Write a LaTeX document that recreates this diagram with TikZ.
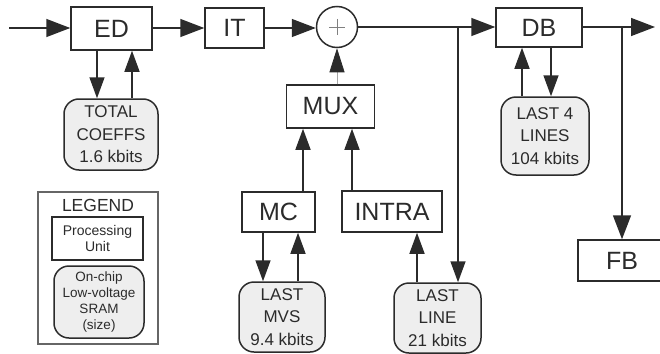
\documentclass[tikz,border=0pt]{standalone}
\usepackage{fontspec}
\setmainfont{Liberation Sans}
\usetikzlibrary{arrows.meta,calc}
\definecolor{ln}{HTML}{2B2B2B}
\definecolor{memfill}{HTML}{EEEEEE}
\tikzset{
  unit/.style={draw=ln, line width=1.5pt, rectangle, inner sep=0pt, font=\fontsize{25}{27}\selectfont, text=ln},
  mem/.style={draw=ln, line width=1.5pt, rectangle, rounded corners=15pt, fill=memfill, inner sep=0pt, align=center, font=\fontsize{17}{22.5}\selectfont, text=ln},
  arr/.style={draw=ln, line width=1.5pt, -{Triangle[length=21pt,width=15pt]}},
  harr/.style={draw=ln, line width=1.5pt, -{Triangle[length=24pt,width=18pt]}},
}
\begin{document}
\begin{tikzpicture}[x=1pt,y=-1pt]
\useasboundingbox (0,0) rectangle (660,353);
% processing units
\node[unit, minimum width=81pt, minimum height=43pt] (ED) at (111.5,28.5) {ED};
\node[unit, minimum width=59pt, minimum height=40pt] (IT) at (234.5,28) {IT};
\node[draw=ln, line width=1.5pt, circle, minimum size=41pt, inner sep=0pt] (plus) at (337,27) {};
\draw[gray, line width=0.8pt] ($(plus.center)+(-8,0)$) -- ($(plus.center)+(8,0)$)
  ($(plus.center)+(0,-8)$) -- ($(plus.center)+(0,8)$);
\node[unit, minimum width=86pt, minimum height=39pt] (DB) at (539,27.5) {DB};
\node[unit, minimum width=88pt, minimum height=41pt] (FB) at (622,260.5) {FB};
\node[unit, minimum width=88pt, minimum height=43pt] (MUX) at (330.5,106.5) {MUX};
\node[unit, minimum width=73pt, minimum height=40pt] (MC) at (278.5,212) {MC};
\node[unit, minimum width=100pt, minimum height=41pt] (INTRA) at (392,211.5) {INTRA};
% memories
\node[mem, minimum width=94pt, minimum height=71pt] (TC) at (111,134.5) {TOTAL\\COEFFS\\1.6 kbits};
\node[mem, minimum width=88pt, minimum height=78pt] (L4) at (545,136) {LAST 4\\LINES\\104 kbits};
\node[mem, minimum width=86pt, minimum height=70pt] (MVS) at (282,317) {LAST\\MVS\\9.4 kbits};
\node[mem, minimum width=87pt, minimum height=70pt] (LL) at (437.5,318) {LAST\\LINE\\21 kbits};
% legend
\node[draw=gray!80!black, line width=1.2pt, minimum width=120pt, minimum height=152pt, inner sep=0pt] (LEG) at (98,268) {};
\node[font=\fontsize{17.5}{19}\selectfont, text=ln, inner sep=0pt] (LEGT) at (98,205) {LEGEND};
\node[unit, minimum width=91pt, minimum height=43pt, align=center, font=\fontsize{14}{16}\selectfont] (PU) at (97.5,238.5) {Processing\\Unit};
\node[mem, minimum width=90pt, minimum height=72pt, font=\fontsize{13.5}{16}\selectfont] (SR) at (99,302) {On-chip\\Low-voltage\\SRAM\\(size)};
% coordinates
\coordinate (in) at (9,28);
\coordinate (out) at (655,27);
\coordinate (b1) at (458,27);
\coordinate (b2) at (622,27);
% main path
\draw[harr] (in) -- (ED.west |- in);
\draw[harr] (ED.east |- IT.west) -- (IT.west);
\draw[harr] (IT.east) -- (plus.west |- IT.east);
\draw[harr] (plus.east) -- (DB.west |- plus.east);
\draw[harr] (DB.east |- out) -- (out);
\draw[arr] (b1) -- (b1 |- LL.north);
\draw[harr] (b2) -- (FB.north);
% ED memory
\draw[arr] (ED.south -| 97,0) -- (TC.north -| 97,0);
\draw[arr] (TC.north -| 132,0) -- (ED.south -| 132,0);
% DB memory
\draw[arr] (L4.north -| 522,0) -- (DB.south -| 522,0);
\draw[arr] (DB.south -| 551,0) -- (L4.north -| 551,0);
% MUX to adder
\draw[gray!70, line width=0.8pt, -{Triangle[length=24pt,width=15pt,color=ln]}] (MUX.north -| plus.south) -- (plus.south);
% MC, INTRA to MUX
\draw[arr] (MC.north -| 303,0) -- (MUX.south -| 303,0);
\draw[arr] (INTRA.north -| 352,0) -- (MUX.south -| 352,0);
% MC memory
\draw[arr] (MC.south -| 263,0) -- (MVS.north -| 263,0);
\draw[arr] (MVS.north -| 298,0) -- (MC.south -| 298,0);
% INTRA memory
\draw[arr] (LL.north -| 417,0) -- (INTRA.south -| 417,0);
\end{tikzpicture}
\end{document}
